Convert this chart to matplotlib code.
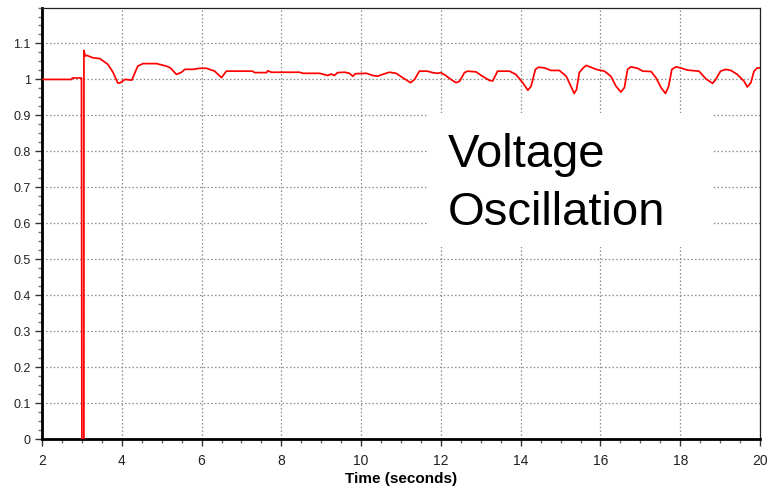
import matplotlib
matplotlib.use("Agg")
import matplotlib.pyplot as plt
from matplotlib.patches import Rectangle
from matplotlib.ticker import MultipleLocator

plt.rcParams['font.family'] = ['Liberation Sans', 'DejaVu Sans']

# time (s) and voltage (pu)
time_s = [2.0, 2.74, 2.76, 2.99, 3.0, 3.05, 3.051, 3.08, 3.12, 3.28, 3.45,
          3.65, 3.78, 3.9, 3.95, 4.08, 4.25, 4.4, 4.53, 4.87, 5.12, 5.22,
          5.37, 5.5, 5.58, 5.78, 5.96, 6.12, 6.33, 6.5, 6.62, 7.28, 7.33,
          7.63, 7.66, 7.75, 8.46, 8.54, 8.96, 9.16, 9.25, 9.33, 9.41, 9.59,
          9.71, 9.79, 9.86, 10.13, 10.29, 10.41, 10.54, 10.71, 10.88, 11.04,
          11.24, 11.34, 11.46, 11.66, 11.79, 11.91, 12.0, 12.12, 12.25, 12.38,
          12.47, 12.59, 12.67, 12.88, 13.04, 13.22, 13.3, 13.42, 13.72, 13.88,
          14.05, 14.18, 14.26, 14.37, 14.45, 14.6, 14.76, 14.97, 15.14, 15.26,
          15.34, 15.4, 15.47, 15.55, 15.64, 15.76, 15.89, 16.1, 16.26, 16.39,
          16.51, 16.6, 16.68, 16.76, 16.93, 17.06, 17.27, 17.39, 17.52, 17.63,
          17.71, 17.79, 17.89, 18.01, 18.18, 18.47, 18.64, 18.81, 18.89, 19.01,
          19.14, 19.27, 19.43, 19.6, 19.68, 19.77, 19.85, 19.93, 20.0]
voltage = [1.0, 1.0, 1.004, 1.004, 0.0, 0.0, 1.081, 1.065, 1.067, 1.06, 1.058,
           1.042, 1.02, 0.99, 0.99, 1.0, 0.998, 1.037, 1.044, 1.044, 1.037, 1.032,
           1.014, 1.02, 1.028, 1.028, 1.031, 1.031, 1.023, 1.005, 1.023, 1.023, 1.019,
           1.019, 1.024, 1.02, 1.02, 1.017, 1.017, 1.011, 1.015, 1.011, 1.019, 1.02,
           1.017, 1.009, 1.016, 1.017, 1.011, 1.009, 1.014, 1.02, 1.017, 1.005,
           0.991, 1.0, 1.023, 1.023, 1.019, 1.017, 1.019, 1.011, 1.0, 0.991,
           0.995, 1.019, 1.023, 1.021, 1.009, 0.997, 0.996, 1.023, 1.023, 1.014,
           0.991, 0.97, 0.981, 1.028, 1.034, 1.032, 1.025, 1.025, 1.009, 0.981,
           0.961, 0.972, 1.019, 1.03, 1.039, 1.034, 1.028, 1.023, 1.009, 0.981,
           0.965, 0.977, 1.028, 1.035, 1.031, 1.023, 1.022, 1.005, 0.977, 0.961,
           0.981, 1.028, 1.035, 1.032, 1.026, 1.023, 1.002, 0.989, 1.0, 1.023,
           1.028, 1.025, 1.014, 0.995, 0.979, 0.991, 1.023, 1.032, 1.032]

fig = plt.figure(figsize=(7.68, 4.88), dpi=100)
ax = fig.add_axes([0.0547, 0.1004, 0.9349, 0.8842])

ax.plot(time_s, voltage, color='#ff0000', lw=1.25, zorder=3)

ax.set_xlim(2, 20)
ax.set_ylim(0, 1.2)
ax.xaxis.set_major_locator(MultipleLocator(2))
ax.xaxis.set_minor_locator(MultipleLocator(0.5))
ax.yaxis.set_major_locator(MultipleLocator(0.1))
ax.yaxis.set_minor_locator(MultipleLocator(0.025))
ax.set_yticks([0, 0.1, 0.2, 0.3, 0.4, 0.5, 0.6, 0.7, 0.8, 0.9, 1, 1.1])
ax.set_yticklabels(['0', '0.1', '0.2', '0.3', '0.4', '0.5', '0.6', '0.7',
                    '0.8', '0.9', '1', '1.1'])

ax.set_axisbelow(True)
ax.grid(True, which='major', color='#8a8a8a', linestyle=(0, (1.2, 1.8)), lw=0.9)

ax.tick_params(axis='x', which='major', length=5, width=1, labelsize=10,
               pad=6, colors='#333333', labelcolor='#222222')
ax.tick_params(axis='x', which='minor', length=3, width=1, colors='#666666')
ax.tick_params(axis='y', which='major', length=5, width=1, labelsize=9,
               pad=3, colors='#333333', labelcolor='#222222')
ax.tick_params(axis='y', which='minor', length=3, width=1, colors='#777777')

for side in ['left', 'bottom']:
    ax.spines[side].set_linewidth(2.0)
    ax.spines[side].set_color('black')
for side in ['top', 'right']:
    ax.spines[side].set_linewidth(0.9)
    ax.spines[side].set_color('#222222')

ax.set_xlabel('Time (seconds)', fontsize=11, fontweight='bold', labelpad=3)

# white box behind the label
ax.add_patch(Rectangle((0.5376, 0.445), 0.397, 0.31, transform=ax.transAxes,
                       facecolor='white', edgecolor='none', zorder=1))
ax.text(0.565, 0.630, 'Voltage', transform=ax.transAxes, fontsize=34,
        va='baseline', ha='left', zorder=2)
ax.text(0.565, 0.496, 'Oscillation', transform=ax.transAxes, fontsize=34,
        va='baseline', ha='left', zorder=2)

fig.savefig('out.png', dpi=100)
